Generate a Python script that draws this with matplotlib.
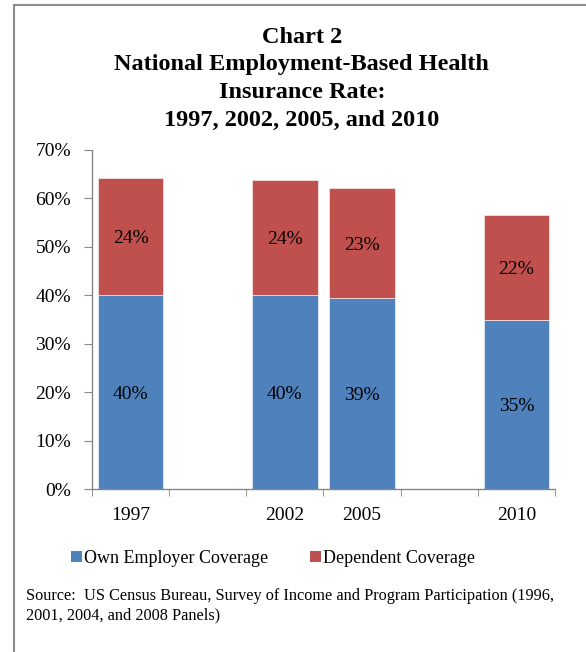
import matplotlib
matplotlib.use('Agg')
import matplotlib.pyplot as plt
from matplotlib.lines import Line2D
from matplotlib.patches import Patch
import numpy as np

# Chart data (percent), blank slots keep the spacing of the original chart
years = ['1997', '', '2002', '2005', '', '2010']
own_employer = [40.0, 0, 40.0, 39.4, 0, 34.8]
dependent = [24.3, 0, 23.7, 22.7, 0, 21.7]
own_labels = ['40%', '', '40%', '39%', '', '35%']
dep_labels = ['24%', '', '24%', '23%', '', '22%']

blue = '#4F81BD'
red = '#C0504D'

plt.rcParams['font.family'] = ['Liberation Serif', 'DejaVu Serif']

fig = plt.figure(figsize=(5.86, 6.52), dpi=100)
ax = fig.add_axes([0.157, 0.25, 0.790, 0.520])

x = np.arange(len(years))
mask = np.array([y != '' for y in years])
ax.bar(x[mask], np.array(own_employer)[mask], width=0.85, color=blue, edgecolor='white', linewidth=0.4)
ax.bar(x[mask], np.array(dependent)[mask], width=0.85, bottom=np.array(own_employer)[mask],
       color=red, edgecolor='white', linewidth=0.4)

for i in range(len(years)):
	if years[i] == '':
		continue
	ax.text(x[i], own_employer[i] / 2 - 0.4, own_labels[i], ha='center', va='center', fontsize=14)
	ax.text(x[i], own_employer[i] + dependent[i] / 2 - 0.4, dep_labels[i], ha='center', va='center', fontsize=14)

ax.set_xlim(-0.5, len(years) - 0.5)
ax.set_ylim(0, 70)
ax.set_yticks(np.arange(0, 71, 10))
ax.set_yticklabels([str(v) + '%' for v in range(0, 71, 10)], fontsize=14)

# category labels centred, tick marks on the slot boundaries
ax.set_xticks(x)
ax.set_xticklabels(years, fontsize=14)
ax.set_xticks(np.arange(-0.5, len(years)), minor=True)
ax.tick_params(axis='x', which='major', length=0, pad=13)
ax.tick_params(axis='x', which='minor', length=5, color='#868686', direction='out')
ax.tick_params(axis='y', length=6, color='#868686', direction='out', pad=9)

for s in ['top', 'right']:
	ax.spines[s].set_visible(False)
for s in ['left', 'bottom']:
	ax.spines[s].set_color('#868686')
	ax.spines[s].set_linewidth(1.0)

fig.text(0.515, 0.959, 'Chart 2\nNational Employment-Based Health\nInsurance Rate:\n1997, 2002, 2005, and 2010',
	ha='center', va='top', fontsize=17.5, fontweight='bold', linespacing=1.42)

handles = [Patch(facecolor=blue, label='Own Employer Coverage'),
	Patch(facecolor=red, label='Dependent Coverage')]
fig.legend(handles=handles, loc='center', bbox_to_anchor=(0.466, 0.144), ncol=2, frameon=False,
	fontsize=13, handlelength=0.6, handleheight=0.6, handletextpad=0.15, columnspacing=2.3)

fig.text(0.044, 0.0705, 'Source:  US Census Bureau, Survey of Income and Program Participation (1996,\n2001, 2004, and 2008 Panels)',
	ha='left', va='center', fontsize=11.7, linespacing=1.3)

# page frame lines (top and left)
fig.add_artist(Line2D([0.024, 1.0], [0.992, 0.992], transform=fig.transFigure, color='#8c8c8c', linewidth=1.5))
fig.add_artist(Line2D([0.024, 0.024], [0.0, 0.992], transform=fig.transFigure, color='#8c8c8c', linewidth=1.5))

fig.savefig('out.png', dpi=100)
